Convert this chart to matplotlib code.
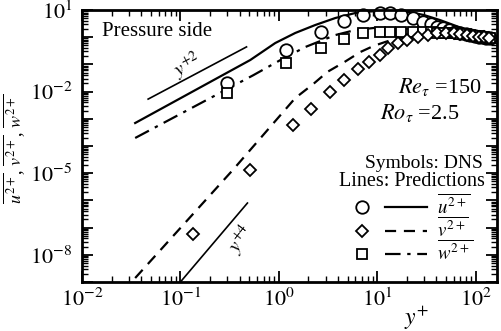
import numpy as np
import matplotlib
matplotlib.use("Agg")
import matplotlib.pyplot as plt
from matplotlib.ticker import LogLocator, FuncFormatter, NullFormatter
from matplotlib.legend_handler import HandlerBase
from matplotlib.lines import Line2D

plt.rcParams['font.family'] = ['Liberation Serif', 'DejaVu Serif']
plt.rcParams['mathtext.fontset'] = 'stix'

# ---------------- data ----------------
# DNS symbols: u'^2 (circles) and w'^2 (squares) share the same y+ positions
yp_uw = [0.30, 1.18, 2.71, 4.64, 7.1, 10.8, 13.6, 17.3, 22.9, 28.9, 35, 41, 47,
         54, 62, 70, 79, 88, 98, 108, 118, 129, 140]
u_dns = [0.0207, 0.34, 1.55, 3.95, 6.5, 7.8, 7.8, 6.5, 5.1, 3.6, 3.05, 2.37, 2.18,
         1.84, 1.6, 1.45, 1.3, 1.2, 1.1, 1.03, 0.98, 0.95, 0.93]
w_dns = [0.0089, 0.112, 0.40, 0.86, 1.43, 1.55, 1.55, 1.55, 1.55, 1.55, 1.5, 1.45, 1.43,
         1.43, 1.4, 1.35, 1.28, 1.2, 1.13, 1.07, 1.01, 0.97, 0.93]
# DNS v'^2 (diamonds)
yp_v = [0.135, 0.513, 1.41, 2.14, 3.34, 4.64, 6.45, 8.34, 10.8, 13.0, 16.1, 20.3,
        25.7, 32.5, 41, 50, 60, 70, 82, 95, 108, 122, 138]
v_dns = [5.8e-8, 1.32e-5, 5.9e-4, 2.3e-3, 9.7e-3, 0.0267, 0.0678, 0.122, 0.222, 0.40,
         0.61, 0.79, 1.02, 1.2, 1.38, 1.45, 1.42, 1.35, 1.25, 1.15, 1.05, 0.98, 0.93]

# Predictions (lines)
yp_u_line = [0.0347, 0.513, 0.92, 1.47, 2.35, 3.76, 6.0, 9.6, 13, 20, 30, 44, 67, 100, 150]
u_line = [7.0e-4, 0.145, 0.61, 1.43, 2.81, 5.08, 7.76, 9.2, 9.6, 8.8, 6.5, 4.2, 2.4, 1.45, 0.93]
yp_v_line = [0.0347, 0.344, 1.47, 2.24, 3.12, 4.64, 6.75, 9.16, 12.1, 16.4, 25, 40, 60, 100, 150]
v_line = [1.4e-9, 1.36e-5, 5.8e-3, 0.019, 0.053, 0.122, 0.286, 0.475, 0.67, 0.94, 1.2,
          1.4, 1.45, 1.2, 0.93]
yp_w_line = [0.0347, 0.55, 1.04, 1.86, 3.76, 6.0, 9.2, 15.3, 31, 60, 100, 150]
w_line = [1.97e-4, 0.04, 0.145, 0.436, 1.2, 1.84, 2.18, 2.18, 1.84, 1.4, 1.1, 0.93]

# reference slopes
yp_ref2 = [0.047, 0.47]
ref2 = [5.3e-3, 0.44]
yp_ref4 = [0.1, 0.48]
ref4 = [1.0e-9, 8e-7]

labelled_y_exponents = [1, -2, -5, -8]
legend_labels = [r'$\overline{u^{2+}}$', r'$\overline{v^{2+}}$', r'$\overline{w^{2+}}$']

# ---------------- figure ----------------
fig = plt.figure(figsize=(5.01, 3.31), dpi=100)
ax = fig.add_axes([82/501, 1-282/331, (497-82)/501, (282-10)/331])

lw = 1.6
dash_v = (0, (5, 3.5))
dash_w = (0, (7, 3, 1.5, 3))
ax.plot(yp_u_line, u_line, color='black', lw=lw, ls='-')
ax.plot(yp_v_line, v_line, color='black', lw=lw, ls=dash_v)
ax.plot(yp_w_line, w_line, color='black', lw=lw, ls=dash_w)

ax.plot(yp_ref2, ref2, color='black', lw=1.2)
ax.plot(yp_ref4, ref4, color='black', lw=1.2)

mk = dict(ls='none', mfc='white', mec='black', mew=1.3, clip_on=False)
ax.plot(yp_uw, u_dns, marker='o', ms=9, **mk)
ax.plot(yp_uw, w_dns, marker='s', ms=7.5, **mk)
ax.plot(yp_v, v_dns, marker='D', ms=6, **mk)

ax.set_xscale('log')
ax.set_yscale('log')
ax.set_xlim(0.01, 165)
ax.set_ylim(1e-9, 10)

ax.xaxis.set_major_locator(LogLocator(base=10, numticks=20))
ax.xaxis.set_minor_locator(LogLocator(base=10, subs=np.arange(2, 10), numticks=100))
ax.yaxis.set_major_locator(LogLocator(base=10, numticks=20))
ax.yaxis.set_minor_locator(LogLocator(base=10, subs=np.arange(2, 10), numticks=100))
ax.xaxis.set_minor_formatter(NullFormatter())
ax.yaxis.set_minor_formatter(NullFormatter())


def fmt(v, pos):
    e = int(round(np.log10(v)))
    return r'$10^{%d}$' % e


def yfmt(v, pos):
    e = int(round(np.log10(v)))
    if e in labelled_y_exponents:
        return r'$10^{%d}$' % e
    return ''


ax.xaxis.set_major_formatter(FuncFormatter(fmt))
ax.yaxis.set_major_formatter(FuncFormatter(yfmt))

ax.tick_params(which='both', direction='in', top=True, right=True, labelsize=16)
ax.tick_params(which='major', length=8, width=1.3)
ax.tick_params(which='minor', length=4, width=1.0)
ax.tick_params(axis='x', pad=5)
ax.tick_params(axis='y', pad=7)
for s in ax.spines.values():
    s.set_linewidth(2)

ax.set_ylabel(r'$\overline{u^{2+}}$, $\overline{v^{2+}}$, $\overline{w^{2+}}$', fontsize=13)
ax.yaxis.set_label_coords(-0.13, 0.49)
ax.set_xlabel(r'$y^{+}$', fontsize=17)
ax.xaxis.set_label_coords(0.807, -0.085)

fig.text(102/501, 1-31/331, 'Pressure side', fontsize=15, va='center', ha='left')
fig.text(188/501, 1-66/331, r'$y^{+2}$', fontsize=14, va='center', ha='center', rotation=27)
fig.text(241/501, 1-240/331, r'$y^{+4}$', fontsize=14, va='center', ha='center', rotation=52)
fig.text(398/501, 1-87/331, r'$Re_{\tau}$ =150', fontsize=16, va='center', ha='left')
fig.text(380/501, 1-113/331, r'$Ro_{\tau}$ =2.5', fontsize=16, va='center', ha='left')
fig.text(483/501, 1-163/331, 'Symbols: DNS', fontsize=14, va='center', ha='right')
fig.text(485/501, 1-181/331, 'Lines: Predictions', fontsize=14.5, va='center', ha='right')


class MarkerThenLine(HandlerBase):
    """Legend key: symbol on the left, line sample on the right."""

    def create_artists(self, legend, orig_handle, xdescent, ydescent,
                       width, height, fontsize, trans):
        mproto, lproto = orig_handle
        y = (height - ydescent) / 2
        m = Line2D([-xdescent + 0.1 * width], [y])
        m.update_from(mproto)
        m.set_transform(trans)
        ln = Line2D([-xdescent + 0.42 * width, -xdescent + width], [y, y])
        ln.update_from(lproto)
        ln.set_transform(trans)
        return [m, ln]


def mproto(marker, ms):
    return Line2D([], [], ls='none', marker=marker, ms=ms, mfc='white', mec='black', mew=1.3)


handles = [(mproto('o', 9), Line2D([], [], color='black', lw=lw, ls='-')),
           (mproto('D', 6), Line2D([], [], color='black', lw=lw, ls=dash_v)),
           (mproto('s', 7.5), Line2D([], [], color='black', lw=lw, ls=dash_w))]
leg_fs = 13.5
leg = ax.legend(handles, legend_labels,
                handler_map={tuple: MarkerThenLine()},
                loc='upper left', bbox_to_anchor=((355-82)/415, (282-194)/272),
                frameon=False, fontsize=leg_fs, handlelength=72/(leg_fs*100/72),
                handletextpad=10/(leg_fs*100/72),
                labelspacing=-0.05, borderpad=0, borderaxespad=0)

fig.savefig('out.png', dpi=100)
